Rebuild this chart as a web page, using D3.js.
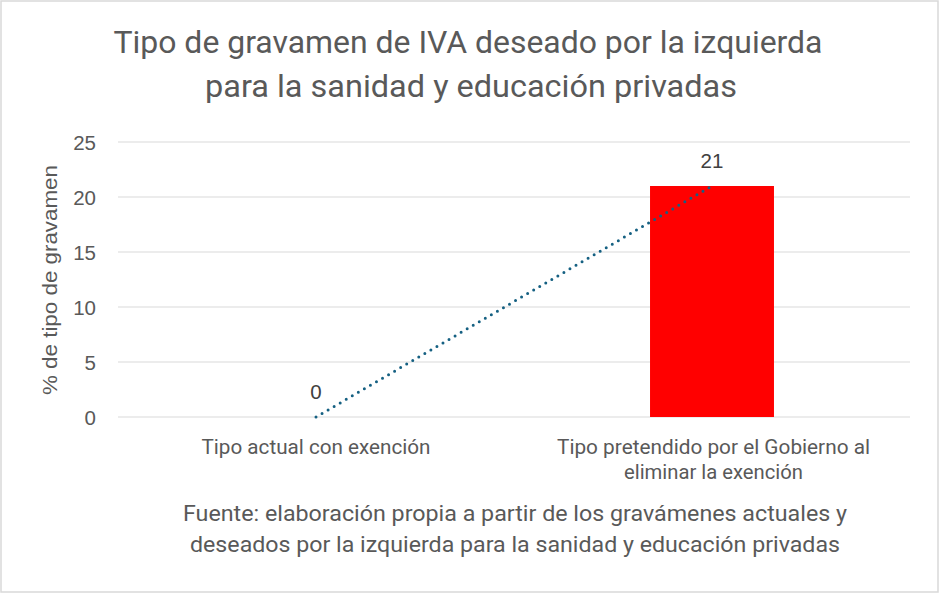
<!DOCTYPE html>
<html><head><meta charset="utf-8">
<script src="https://cdn.jsdelivr.net/npm/d3@7"></script>
<style>body{margin:0;background:#fff}svg{display:block}</style>
</head><body>
<svg id="c" width="940" height="594"></svg>
<script>
const categories = ["Tipo actual con exención", "Tipo pretendido por el Gobierno al eliminar la exención"];
const categoryLines = [["Tipo actual con exención"], ["Tipo pretendido por el Gobierno al", "eliminar la exención"]];
const values = [0, 21];
const yTicks = [0, 5, 10, 15, 20, 25];
const titleLines = ["Tipo de gravamen de IVA deseado por la izquierda", "para la sanidad y educación privadas"];
const footerLines = ["Fuente: elaboración propia a partir de los gravámenes actuales y", "deseados por la izquierda para la sanidad y educación privadas"];
const yTitle = "% de tipo de gravamen";

const svg = d3.select("#c");
const narrow = "Roboto,'Liberation Sans',sans-serif";
const sans = "'Liberation Sans',Arial,sans-serif";
const grey = "#595959";

svg.append("rect").attr("x",1).attr("y",1).attr("width",937).attr("height",591)
  .attr("fill","#fff").attr("stroke","#d9d9d9").attr("stroke-width",1.5);

const x = d3.scaleBand().domain(categories).range([118,910]).paddingInner(0.687).paddingOuter(0.3435);
const y = d3.scaleLinear().domain([0,25]).range([417,142]);

// gridlines
svg.append("g").selectAll("line").data(yTicks).join("line")
  .attr("x1",118).attr("x2",910).attr("y1",d=>y(d)).attr("y2",d=>y(d))
  .attr("stroke","#d9d9d9").attr("stroke-width",1);

// y axis labels
const yAxis = d3.axisLeft(y).tickValues(yTicks).tickSize(0).tickPadding(0);
const ga = svg.append("g").attr("transform","translate(96,0)").call(yAxis);
ga.select(".domain").remove();
ga.selectAll("text").attr("font-family",sans).attr("font-size",20.5).attr("fill",grey).attr("dy","0.35em");

// bars
svg.append("g").selectAll("rect").data(values).join("rect")
  .attr("x",(d,i)=>x(categories[i])).attr("width",x.bandwidth())
  .attr("y",d=>y(d)).attr("height",d=>y(0)-y(d)).attr("fill","#ff0000");

// linear trendline
const xs = values.map((d,i)=>i+1);
const mx = d3.mean(xs), my = d3.mean(values);
const slope = d3.sum(xs.map((v,i)=>(v-mx)*(values[i]-my)))/d3.sum(xs.map(v=>(v-mx)*(v-mx)));
const icpt = my - slope*mx;
const cx = i => x(categories[i]) + x.bandwidth()/2;
const trend = xs.map((v,i)=>[cx(i), y(icpt+slope*v)]);
svg.append("path").attr("d", d3.line()(trend)).attr("fill","none")
  .attr("stroke","#156082").attr("stroke-width",3).attr("stroke-linecap","round")
  .attr("stroke-dasharray","0,7");

// data labels
svg.append("g").selectAll("text").data(values).join("text")
  .attr("x",(d,i)=>cx(i)).attr("y",d=>y(d)-25).attr("dy","0.35em")
  .attr("text-anchor","middle").attr("font-family",sans).attr("font-size",20.5).attr("fill","#404040")
  .text(d=>d);

function fitText(g, txt, cxp, base, size, width, family, color){
  const t = g.append("text").attr("x",cxp).attr("y",base).attr("text-anchor","middle")
    .attr("font-family",family).attr("font-size",size).attr("fill",color).text(txt);
  if (width) t.attr("textLength",width).attr("lengthAdjust","spacingAndGlyphs");
  return t;
}

// title
const tw = [709, 532];
const tc = [468, 471];
const tb = [53, 97];
titleLines.forEach((l,i)=>fitText(svg,l,tc[i],tb[i],31.5,tw[i],narrow,grey));

// category labels
const cw = [[229],[313,179]];
categoryLines.forEach((lines,i)=>lines.forEach((l,j)=>fitText(svg,l,cx(i)+(i?1.5:0),454+j*25,20,cw[i][j],narrow,grey)));

// footer (x axis title)
const fw = [664, 650];
const fb = [521, 552];
footerLines.forEach((l,i)=>fitText(svg,l,515,fb[i],22,fw[i],narrow,grey));

// y title
svg.append("text").attr("transform","translate(57,280) rotate(-90)").attr("text-anchor","middle")
  .attr("font-family",sans).attr("font-size",20.5).attr("fill",grey)
  .attr("textLength",230).attr("lengthAdjust","spacingAndGlyphs").text(yTitle);
</script>
</body></html>
